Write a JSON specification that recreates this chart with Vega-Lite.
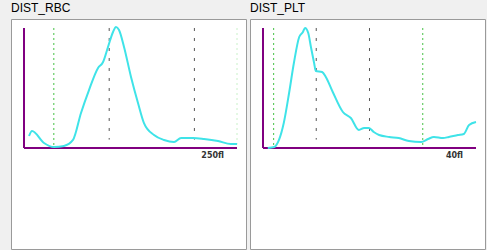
{
  "$schema": "https://vega.github.io/schema/vega-lite/v6.json",
  "background": "#f0f0f0",
  "padding": {"top": 1, "left": 10, "right": 2, "bottom": 0},
  "spacing": 4,
  "bounds": "flush",
  "config": {
    "view": {"fill": "white", "stroke": "#9a9a9a", "strokeWidth": 1},
    "title": {"font": "Liberation Sans", "fontSize": 12, "fontWeight": "normal", "color": "#000000", "anchor": "start", "offset": 0}
  },
  "datasets": {
    "rbc": [
      {"x": 5.9, "y": 10.0}, {"x": 9.4, "y": 14.2}, {"x": 23.5, "y": 4.2}, {"x": 35.2, "y": 0.8},
      {"x": 46.9, "y": 1.7}, {"x": 57.5, "y": 6.7}, {"x": 66.9, "y": 29.2}, {"x": 76.3, "y": 48.3},
      {"x": 86.9, "y": 66.7}, {"x": 92.8, "y": 71.7}, {"x": 98.6, "y": 84.2}, {"x": 104.5, "y": 96.7},
      {"x": 108.0, "y": 100.8}, {"x": 111.5, "y": 98.3}, {"x": 117.4, "y": 84.2}, {"x": 125.6, "y": 59.2},
      {"x": 133.8, "y": 37.5}, {"x": 140.8, "y": 20.8}, {"x": 152.6, "y": 10.8}, {"x": 164.3, "y": 6.7},
      {"x": 176.1, "y": 5.0}, {"x": 184.3, "y": 8.3}, {"x": 198.4, "y": 8.3}, {"x": 211.3, "y": 7.5},
      {"x": 227.7, "y": 5.8}, {"x": 242.9, "y": 3.3}, {"x": 250.0, "y": 3.3}
    ],
    "plt": [
      {"x": 0.9, "y": 0.0}, {"x": 2.1, "y": 0.8}, {"x": 3.0, "y": 6.7}, {"x": 3.9, "y": 20.8},
      {"x": 4.9, "y": 45.8}, {"x": 5.8, "y": 70.8}, {"x": 6.8, "y": 92.5}, {"x": 7.5, "y": 96.7},
      {"x": 7.9, "y": 100.0}, {"x": 8.5, "y": 95.8}, {"x": 9.0, "y": 84.2}, {"x": 9.6, "y": 70.8},
      {"x": 9.9, "y": 64.2}, {"x": 11.1, "y": 63.3}, {"x": 11.8, "y": 59.2}, {"x": 13.1, "y": 46.7},
      {"x": 15.0, "y": 30.0}, {"x": 16.5, "y": 25.0}, {"x": 18.0, "y": 15.0}, {"x": 19.0, "y": 16.7},
      {"x": 19.9, "y": 16.7}, {"x": 20.8, "y": 13.3}, {"x": 21.8, "y": 10.8}, {"x": 23.7, "y": 9.2},
      {"x": 25.5, "y": 8.3}, {"x": 27.4, "y": 5.8}, {"x": 29.7, "y": 5.0}, {"x": 31.0, "y": 7.5},
      {"x": 32.1, "y": 9.2}, {"x": 33.8, "y": 8.3}, {"x": 34.9, "y": 9.2}, {"x": 36.6, "y": 10.8},
      {"x": 37.7, "y": 11.7}, {"x": 38.7, "y": 19.2}, {"x": 40.0, "y": 21.7}
    ],
    "rbcLines": [
      {"x": 35, "top": 100, "bot": 0, "kind": "green"},
      {"x": 100, "top": 100, "bot": 7, "kind": "gray"},
      {"x": 200, "top": 100, "bot": 7, "kind": "gray"},
      {"x": 250, "top": 100, "bot": 3, "kind": "pale"}
    ],
    "pltLines": [
      {"x": 2, "top": 100, "bot": 0, "kind": "green"},
      {"x": 10, "top": 100, "bot": 7, "kind": "gray"},
      {"x": 20, "top": 100, "bot": 7, "kind": "gray"},
      {"x": 30, "top": 100, "bot": 0, "kind": "green"}
    ],
    "rbcAxes": [
      {"x": 0, "x2": 0, "y": 0, "y2": 100},
      {"x": 0, "x2": 250, "y": 0, "y2": 0}
    ],
    "pltAxes": [
      {"x": 0, "x2": 0, "y": 0, "y2": 100},
      {"x": 0, "x2": 40, "y": 0, "y2": 0}
    ],
    "rbcLabel": [{"x": 250, "y": 0, "label": "250fl"}],
    "pltLabel": [{"x": 40, "y": 0, "label": "40fl"}]
  },
  "hconcat": [
    {
      "title": "DIST_RBC",
      "width": 235,
      "height": 230,
      "layer": [
        {
          "data": {"name": "rbcLines"},
          "mark": {"type": "rule", "strokeWidth": 1},
          "encoding": {
            "x": {"field": "x", "type": "quantitative", "scale": {"domain": [-15.26, 260.56], "nice": false, "zero": false}, "axis": null},
            "y": {"field": "top", "type": "quantitative", "scale": {"domain": [-84.17, 107.5], "nice": false, "zero": false}, "axis": null},
            "y2": {"field": "bot"},
            "color": {"field": "kind", "type": "nominal", "scale": {"domain": ["green", "gray", "pale"], "range": ["#44c044", "#555555", "#c8f0c8"]}, "legend": null},
            "strokeDash": {"field": "kind", "type": "nominal", "scale": {"domain": ["green", "gray", "pale"], "range": [[2, 3], [3, 7], [2, 3]]}, "legend": null}
          }
        },
        {
          "data": {"name": "rbcAxes"},
          "mark": {"type": "rule", "color": "#800080", "strokeWidth": 2},
          "encoding": {
            "x": {"field": "x", "type": "quantitative"},
            "x2": {"field": "x2"},
            "y": {"field": "y", "type": "quantitative"},
            "y2": {"field": "y2"}
          }
        },
        {
          "data": {"name": "rbc"},
          "mark": {"type": "line", "color": "#3fe3e8", "strokeWidth": 2, "interpolate": "monotone"},
          "encoding": {
            "x": {"field": "x", "type": "quantitative"},
            "y": {"field": "y", "type": "quantitative"}
          }
        },
        {
          "data": {"name": "rbcLabel"},
          "mark": {"type": "text", "align": "right", "baseline": "top", "dx": -13, "dy": 4, "font": "DejaVu Sans", "fontSize": 8, "fontWeight": "bold", "color": "#333333"},
          "encoding": {
            "x": {"field": "x", "type": "quantitative"},
            "y": {"field": "y", "type": "quantitative"},
            "text": {"field": "label"}
          }
        }
      ]
    },
    {
      "title": "DIST_PLT",
      "width": 235,
      "height": 230,
      "layer": [
        {
          "data": {"name": "pltLines"},
          "mark": {"type": "rule", "strokeWidth": 1},
          "encoding": {
            "x": {"field": "x", "type": "quantitative", "scale": {"domain": [-2.441, 41.69], "nice": false, "zero": false}, "axis": null},
            "y": {"field": "top", "type": "quantitative", "scale": {"domain": [-84.17, 107.5], "nice": false, "zero": false}, "axis": null},
            "y2": {"field": "bot"},
            "color": {"field": "kind", "type": "nominal", "scale": {"domain": ["green", "gray", "pale"], "range": ["#44c044", "#555555", "#c8f0c8"]}, "legend": null},
            "strokeDash": {"field": "kind", "type": "nominal", "scale": {"domain": ["green", "gray", "pale"], "range": [[2, 3], [3, 7], [2, 3]]}, "legend": null}
          }
        },
        {
          "data": {"name": "pltAxes"},
          "mark": {"type": "rule", "color": "#800080", "strokeWidth": 2},
          "encoding": {
            "x": {"field": "x", "type": "quantitative"},
            "x2": {"field": "x2"},
            "y": {"field": "y", "type": "quantitative"},
            "y2": {"field": "y2"}
          }
        },
        {
          "data": {"name": "plt"},
          "mark": {"type": "line", "color": "#3fe3e8", "strokeWidth": 2, "interpolate": "monotone"},
          "encoding": {
            "x": {"field": "x", "type": "quantitative"},
            "y": {"field": "y", "type": "quantitative"}
          }
        },
        {
          "data": {"name": "pltLabel"},
          "mark": {"type": "text", "align": "right", "baseline": "top", "dx": -13, "dy": 4, "font": "DejaVu Sans", "fontSize": 8, "fontWeight": "bold", "color": "#333333"},
          "encoding": {
            "x": {"field": "x", "type": "quantitative"},
            "y": {"field": "y", "type": "quantitative"},
            "text": {"field": "label"}
          }
        }
      ]
    }
  ]
}
